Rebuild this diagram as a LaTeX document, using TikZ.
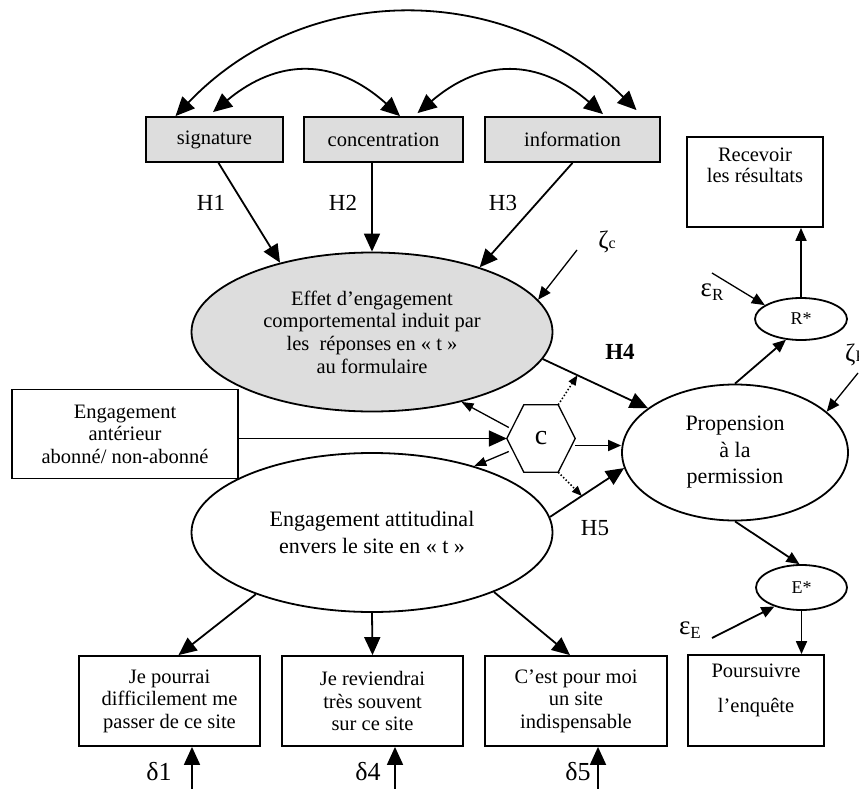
\documentclass[tikz,border=0pt]{standalone}
\usepackage{fontspec}
\setmainfont{Liberation Serif}
\usetikzlibrary{arrows.meta,shapes.geometric,calc}
\definecolor{boxgray}{RGB}{221,221,221}
\newcommand\fsz[2]{\fontsize{#1}{#2}\selectfont}
\begin{document}
\begin{tikzpicture}[x=1pt,y=-1pt,
  lw/.style={line width=1.8pt},
  lt/.style={line width=1.3pt},
  big/.style={-{Triangle[length=18pt,width=16pt]}},
  bigboth/.style={{Triangle[length=19pt,width=17pt]}-{Triangle[length=19pt,width=17pt]}},
  mid/.style={-{Triangle[length=13pt,width=11pt]}},
  sml/.style={-{Triangle[length=12pt,width=9pt]}},
  tiny/.style={-{Triangle[length=10pt,width=8pt]}},
  gbox/.style={draw,line width=1.8pt,fill=boxgray,inner sep=0pt,minimum height=45pt,font=\fsz{20.5}{22}},
  wbox/.style={draw,line width=1.8pt,inner sep=0pt,align=center,font=\fsz{20.5}{22.5}},
  ell/.style={draw,ellipse,line width=1.8pt,inner sep=0pt,align=center},
  lab/.style={inner sep=0pt,font=\fsz{23}{23}},
  txt/.style={inner sep=0pt,align=center,anchor=north}]
\useasboundingbox (0,0) rectangle (859,789);

% top boxes
\node[gbox,minimum width=137pt] (sig) at (214.5,139.5) {signature};
\node[gbox,minimum width=159pt] (con) at (383.5,139.5) {concentration};
\node[gbox,minimum width=175pt] (inf) at (572.5,139.5) {information};

% ellipses
\node[ell,fill=boxgray,minimum width=361pt,minimum height=159pt,font=\fsz{20.5}{22.7}] (geff) at (372,332)
  {Effet d’engagement\\comportemental induit par\\les\ \ réponses en « t »\\au formulaire};
\node[ell,minimum width=361pt,minimum height=159pt,font=\fsz{22}{27}] (watt) at (372,532.5)
  {Engagement attitudinal\\envers le site en « t »};
\node[ell,minimum width=226pt,minimum height=136pt,font=\fsz{22}{26.5}] (prop) at (735,452.5)
  {Propension\\à la\\permission};
\node[ell,minimum width=92pt,minimum height=42pt,font=\fsz{18}{18}] (rstar) at (801,319) {R*};
\node[ell,minimum width=91pt,minimum height=45pt,font=\fsz{18}{18}] (estar) at (801.5,587.5) {E*};

% boxes
\node[wbox,minimum width=226pt,minimum height=89pt] (ant) at (125,434) {Engagement\\antérieur\\abonné/ non-abonné};
\node[draw,line width=1.8pt,minimum width=136pt,minimum height=90pt] (rec) at (755,182) {};
\node[txt,font=\fsz{20.5}{21.5}] (rectxt) at ([yshift=-11.5pt]rec.north) {Recevoir\\les résultats};
\node[draw,line width=1.8pt,minimum width=136pt,minimum height=91pt] (pours) at (756,700.5) {};
\node[txt,font=\fsz{20.5}{22.5}] (pourstxt) at ([yshift=-9.5pt]pours.north) {Poursuivre\\[12.5pt]l’enquête};
\node[wbox,minimum width=181pt,minimum height=90pt] (j1) at (169.5,701) {Je pourrai\\difficilement me\\passer de ce site};
\node[wbox,minimum width=181pt,minimum height=90pt] (j2) at (372.5,701) {Je reviendrai\\très souvent\\sur ce site};
\node[wbox,minimum width=182pt,minimum height=90pt] (j3) at (576,701) {C’est pour moi\\un site\\indispensable};

% hexagon
\node[inner sep=0pt,minimum width=68pt,minimum height=67pt,font=\fsz{28}{28}] (hex) at (541,438.5) {c};
\draw[lt] (hex.west) -- ([xshift=17pt]hex.north west) -- ([xshift=-17pt]hex.north east) -- (hex.east)
  -- ([xshift=-17pt]hex.south east) -- ([xshift=17pt]hex.south west) -- cycle;

% labels
\node[lab] (h1) at (211,203) {H1};
\node[lab] (h2) at (343,203) {H2};
\node[lab] (h3) at (503,203) {H3};
\node[lab] (h4) at (620,352) {\bfseries H4};
\node[lab] (h5) at (595,528) {H5};
\node[lab,font=\fsz{25}{25}] (zc) at (607,242) {ζ\fsz{16}{16}c};
\node[lab,font=\fsz{25}{25},anchor=west] (zp) at (845,355) {ζ\fsz{16}{16}P};
\node[lab,font=\fsz{27}{27}] (er) at (712,292) {ε\raisebox{-4pt}{\fsz{17}{17}R}};
\node[lab,font=\fsz{27}{27}] (ee) at (690,630) {ε\raisebox{-4pt}{\fsz{17}{17}E}};
\node[lab,font=\fsz{26}{26}] (d1) at (159,772) {δ1};
\node[lab,font=\fsz{26}{26}] (d4) at (368,772) {δ4};
\node[lab,font=\fsz{26}{26}] (d5) at (578,772) {δ5};

% free ends
\coordinate (zcs) at (577,250);
\coordinate (zps) at (858,373);
\coordinate (ers) at (712,273);
\coordinate (ees) at (712,638);
\coordinate (b1) at (192,789);
\coordinate (b4) at (395,789);
\coordinate (b5) at (598,789);

% covariance arcs
\draw[lw,bigboth] ([xshift=-39pt]sig.north) .. controls (305,-20) and (506,-19) .. ([xshift=64pt,yshift=6pt]inf.north);
\draw[lw,bigboth] ([xshift=-1.5pt,yshift=4pt]sig.north) .. controls (278,58) and (335,57.5) .. ([xshift=16.5pt]con.north);
\draw[lw,bigboth] ([xshift=34pt,yshift=3pt]con.north) .. controls (482,58) and (538,58) .. ([xshift=30.5pt,yshift=2pt]inf.north);

% H1-H3
\draw[lw,big] ([xshift=4pt]sig.south) -- (geff.143);
\draw[lw,big] (con.south -| geff.north) -- (geff.north);
\draw[lw,big] (inf.south) -- (geff.31);
\draw[lt,mid] (zcs) -- (geff.11);

% H4, H5
\draw[lw,big] (geff.-9) -- (prop.153);
\draw[lw,big] (watt.5) -- (prop.188);
\coordinate (dh4) at ($(geff.-9)!0.33!(prop.153)$);
\coordinate (dh5) at ($(watt.5)!0.43!(prop.188)$);

% moderator
\draw[lw,big] (ant.east |- hex.west) -- (hex.west);
\draw[lt,sml] ($(hex.west)+(2,-11)$) -- (geff.-38);
\draw[lt,sml] ($(hex.west)+(2,13)$) -- (watt.33);
\draw[lw,mid] ([yshift=-7pt]hex.east) -- ([yshift=-7pt]hex.east -| prop.west);
\draw[line width=1.5pt,dash pattern=on 1.5pt off 2pt,tiny] ([xshift=-17pt]hex.north east) -- (dh4);
\draw[line width=1.5pt,dash pattern=on 1.5pt off 2pt,tiny] ([xshift=-17pt]hex.south east) -- (dh5);

% outcome side
\draw[lw,mid] (prop.north) -- (rstar.234);
\draw[lw,mid] (rstar.north) -- (rstar.north |- rec.south);
\draw[lt,mid] (ers) -- (rstar.159);
\draw[lt,mid] (zps) -- (prop.24);
\draw[lw,mid] (prop.south) -- (estar.95);
\draw[lw,mid] (ees) -- (estar.215);
\draw[lw,mid] (estar.south) -- (estar.south |- pours.north);

% indicators
\draw[lw,big] (watt.208) -- ([xshift=9pt]j1.north);
\draw[lw,big] (watt.south) -- (j2.north);
\draw[lw,big] (watt.-26) -- ([xshift=-6pt]j3.north);
\draw[lw,big] (b1) -- (b1 |- j1.south);
\draw[lw,big] (b4) -- (b4 |- j2.south);
\draw[lw,big] (b5) -- (b5 |- j3.south);
\end{tikzpicture}
\end{document}
